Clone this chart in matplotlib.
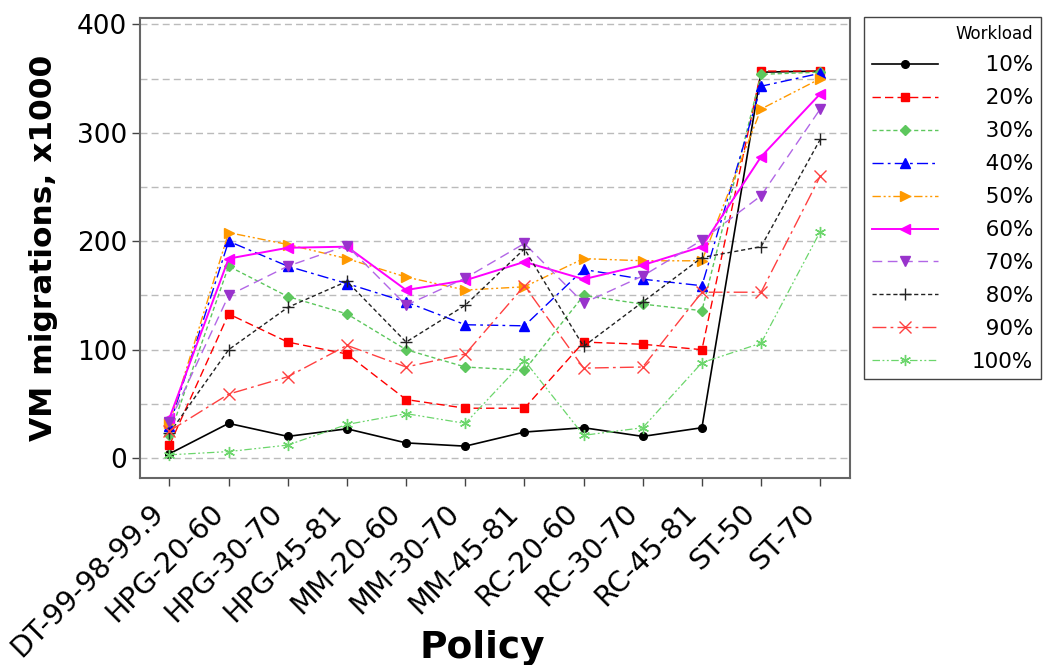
import matplotlib.pyplot as plt

policies = ['DT-99-98-99.9', 'HPG-20-60', 'HPG-30-70', 'HPG-45-81',
            'MM-20-60', 'MM-30-70', 'MM-45-81', 'RC-20-60', 'RC-30-70',
            'RC-45-81', 'ST-50', 'ST-70']

workloads = ['10%', '20%', '30%', '40%', '50%', '60%', '70%', '80%', '90%', '100%']

# migracoes (x1000) por politica, uma lista por carga
w10 = [4, 32, 20, 27, 14, 11, 24, 28, 20, 28, 356, 357]
w20 = [12, 133, 107, 96, 54, 46, 46, 107, 105, 100, 357, 357]
w30 = [21, 177, 149, 133, 100, 84, 81, 150, 142, 136, 354, 356]
w40 = [30, 200, 177, 161, 144, 123, 122, 174, 165, 159, 343, 355]
w50 = [32, 208, 197, 184, 167, 155, 158, 184, 182, 182, 322, 350]
w60 = [37, 184, 194, 195, 155, 164, 181, 165, 178, 195, 278, 336]
w70 = [33, 150, 177, 196, 141, 166, 198, 143, 168, 201, 242, 322]
w80 = [23, 100, 139, 163, 107, 141, 193, 103, 144, 185, 195, 294]
w90 = [25, 59, 75, 104, 84, 96, 159, 83, 84, 153, 153, 260]
w100 = [3, 6, 12, 31, 41, 32, 90, 21, 28, 88, 106, 209]

series = [w10, w20, w30, w40, w50, w60, w70, w80, w90, w100]

cores = ['black', '#FF0000', '#5DC75D', '#0000FF', '#FF9900',
         '#FF00FF', '#9933CC', '#222222', '#FF4040', '#6CD66C']
estilos = ['-', (0, (6, 3)), (0, (3, 2)), (0, (8, 3, 2, 3)),
           (0, (6, 2, 1.5, 2, 1.5, 2)), '-', (0, (7, 4)), (0, (3, 2)),
           (0, (10, 3, 2, 3)), (0, (6, 2, 1.5, 2, 1.5, 2))]
marcadores = ['o', 's', 'D', '^', '>', '<', 'v', '+', 'x', (6, 2, 0)]
tamanhos = [5.5, 6, 5, 7, 7, 7, 7, 8, 9, 8]
larguras = [1.2, 1.0, 1.0, 1.0, 1.0, 1.4, 1.0, 1.0, 1.0, 0.9]

fig = plt.figure(figsize=(10.44, 6.65), dpi=100)
ax = fig.add_axes([0.134, 0.281, 0.680, 0.692])

x = list(range(len(policies)))
linhas = []
for y, c, ls, m, ms, lw in zip(series, cores, estilos, marcadores, tamanhos, larguras):
    cor_linha = c
    if c == '#9933CC':
        cor_linha = '#B266E6'
    l, = ax.plot(x, y, color=cor_linha, linestyle=ls, linewidth=lw, marker=m,
                 markersize=ms, markerfacecolor=c, markeredgecolor=c,
                 markeredgewidth=1.0)
    linhas.append(l)

ax.set_xlim(-0.5, 11.5)
ax.set_ylim(-18.5, 406)
ax.set_yticks([0, 100, 200, 300, 400])
ax.set_yticks([50, 150, 250, 350], minor=True)
ax.tick_params(axis='y', which='minor', length=0)
ax.grid(True, which='both', axis='y', color='#BBBBBB', linestyle=(0, (5, 3)), linewidth=1.0)
ax.set_axisbelow(True)

ax.set_xticks(x)
ax.set_xticklabels(policies, rotation=45, ha='right', fontsize=20.5)
ax.tick_params(axis='both', which='major', direction='out', length=6, width=1.0,
               color='#444444')
ax.tick_params(axis='y', labelsize=19, pad=3)
ax.tick_params(axis='x', pad=9)
for s in ax.spines.values():
    s.set_color('#666666')
    s.set_linewidth(1.5)

ax.set_ylabel('VM migrations, x1000', fontsize=22.5, fontweight='bold')
ax.yaxis.set_label_coords(-0.1155, 0.5)
ax.set_xlabel('Policy', fontsize=27, fontweight='bold', va='baseline')
ax.xaxis.set_label_coords(0.482, -0.39)

# rotulos alinhados a direita com espaco de algarismo
rotulos = [w.rjust(4, '\u2007') for w in workloads]
leg = fig.legend(linhas, rotulos, loc='upper left',
                 bbox_to_anchor=(864 / 1044, 1 - 17 / 665), borderaxespad=0,
                 title='Workload', title_fontsize=12, fontsize=15.5,
                 alignment='right', handlelength=3.1, labelspacing=0.6,
                 borderpad=0.35, handletextpad=1.55, fancybox=False,
                 framealpha=1, edgecolor='#444444')
leg.get_frame().set_linewidth(1.0)

fig.savefig('out.png', dpi=100)
